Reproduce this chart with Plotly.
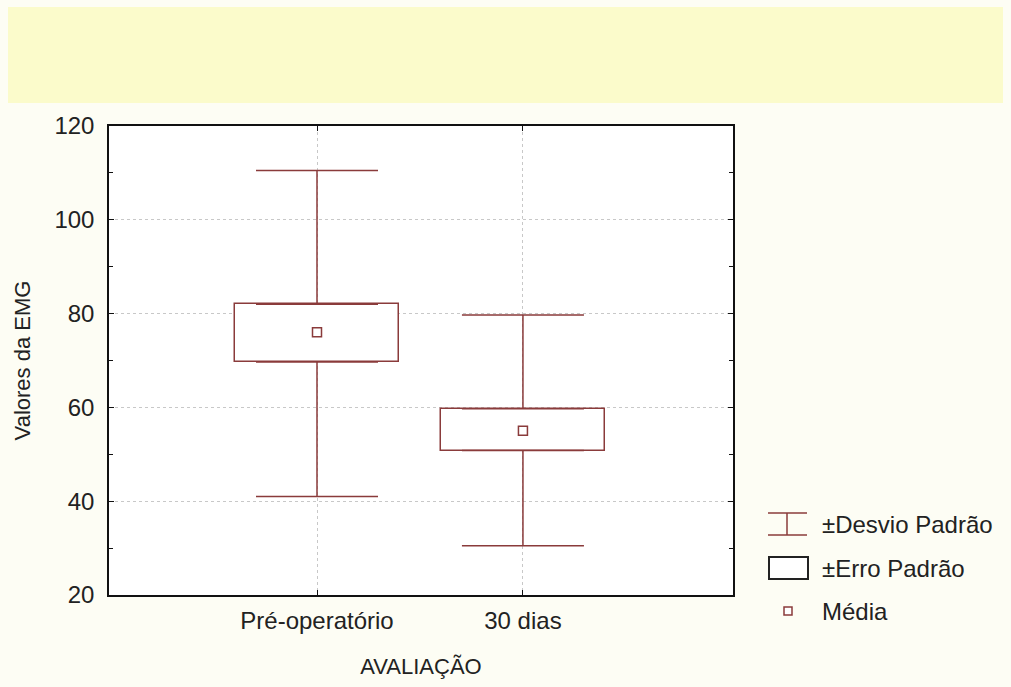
import plotly.graph_objects as go

categories = ["Pré-operatório", "30 dias"]
means = [76, 55]
se_low = [69.7, 50.8]
se_high = [82, 59.7]
sd_low = [41, 30.5]
sd_high = [110.5, 79.7]

y_ticks = [20, 40, 60, 80, 100, 120]
legend_labels = ["±Desvio Padrão", "±Erro Padrão", "Média"]

xpos = list(range(len(categories)))
LINE = "#8a3b3b"
FONT = "Liberation Sans, Arial, sans-serif"
BG = "#fdfdf4"

# plot area in pixels (for placing legend/band in paper coords)
L, T, R, B = 109, 126, 733, 595
def px(x):
    return (x - L) / (R - L)
def py(y):
    return (B - y) / (B - T)

fig = go.Figure()

# SE box
fig.add_trace(go.Bar(
    x=xpos, y=[h - l for h, l in zip(se_high, se_low)], base=se_low,
    width=0.8, marker=dict(color="white", line=dict(color=LINE, width=1.5)),
    showlegend=False, hoverinfo="skip"))

# upper whisker (SE high -> SD high)
fig.add_trace(go.Scatter(
    x=xpos, y=se_high, mode="markers", marker=dict(size=0.1, color="rgba(0,0,0,0)"),
    error_y=dict(type="data", symmetric=False,
                 array=[h - s for h, s in zip(sd_high, se_high)],
                 arrayminus=[0] * len(xpos),
                 color=LINE, thickness=1.5, width=61),
    showlegend=False, hoverinfo="skip"))
# lower whisker (SD low -> SE low)
fig.add_trace(go.Scatter(
    x=xpos, y=se_low, mode="markers", marker=dict(size=0.1, color="rgba(0,0,0,0)"),
    error_y=dict(type="data", symmetric=False,
                 array=[0] * len(xpos),
                 arrayminus=[s - l for s, l in zip(se_low, sd_low)],
                 color=LINE, thickness=1.5, width=61),
    showlegend=False, hoverinfo="skip"))

# mean
fig.add_trace(go.Scatter(
    x=xpos, y=means, mode="markers",
    marker=dict(symbol="square-open", size=9, color=LINE, line=dict(width=1.5)),
    showlegend=False, hoverinfo="skip"))

shapes = []
# yellow band at top
shapes.append(dict(type="rect", xref="paper", yref="paper",
                   x0=px(8), x1=px(1003), y0=py(103), y1=py(7),
                   fillcolor="#fbfbcb", line=dict(width=0), layer="below"))

# legend: SD symbol
shapes.append(dict(type="line", xref="paper", yref="paper", x0=px(768), x1=px(807), y0=py(513), y1=py(513), line=dict(color=LINE, width=1.5)))
shapes.append(dict(type="line", xref="paper", yref="paper", x0=px(768), x1=px(807), y0=py(535), y1=py(535), line=dict(color=LINE, width=1.5)))
shapes.append(dict(type="line", xref="paper", yref="paper", x0=px(787), x1=px(787), y0=py(513), y1=py(535), line=dict(color=LINE, width=1.5)))
# SE box symbol
shapes.append(dict(type="rect", xref="paper", yref="paper", x0=px(769), x1=px(808), y0=py(557), y1=py(579), line=dict(color="#222222", width=2), fillcolor="white"))
# mean symbol
shapes.append(dict(type="rect", xref="paper", yref="paper", x0=px(784), x1=px(792), y0=py(607), y1=py(615), line=dict(color=LINE, width=1.5), fillcolor="white"))

annotations = []
for lbl, yy in zip(legend_labels, [524, 568, 611]):
    annotations.append(dict(text=lbl, xref="paper", yref="paper", x=px(820), y=py(yy),
                            xanchor="left", yanchor="middle", showarrow=False,
                            font=dict(family=FONT, size=24, color="#222222")))

fig.update_layout(
    width=1011, height=687,
    margin=dict(l=L, r=1011 - R, t=T, b=687 - B),
    paper_bgcolor=BG, plot_bgcolor="#ffffff",
    shapes=shapes, annotations=annotations,
    bargap=0, showlegend=False,
    font=dict(family=FONT, size=24, color="#222222"),
)
fig.update_xaxes(
    range=[-1.01, 2.02], tickvals=xpos, ticktext=categories,
    showline=True, linecolor="#111111", linewidth=1.5, mirror="ticks",
    ticks="inside", ticklen=5, tickcolor="#111111",
    showgrid=True, gridcolor="#c8c8c8", griddash="dot", gridwidth=1,
    zeroline=False, tickfont=dict(size=24), ticklabelstandoff=3,
    title=dict(text="AVALIAÇÃO", font=dict(size=22), standoff=26),
)
fig.update_yaxes(
    range=[20, 120], tickvals=y_ticks,
    showline=True, linecolor="#111111", linewidth=1.5, mirror="ticks",
    ticks="inside", ticklen=5, tickcolor="#111111",
    minor=dict(dtick=10, ticks="inside", ticklen=4, tickcolor="#111111", showgrid=False),
    showgrid=True, gridcolor="#c8c8c8", griddash="dot", gridwidth=1,
    zeroline=False, tickfont=dict(size=24), ticklabelstandoff=8,
    title=dict(text="Valores da EMG", font=dict(size=22), standoff=18),
)

fig.write_html(
    "out.html",
    config={"displayModeBar": False},
    post_script=f"document.body.style.margin='0';document.body.style.background='{BG}';",
)
